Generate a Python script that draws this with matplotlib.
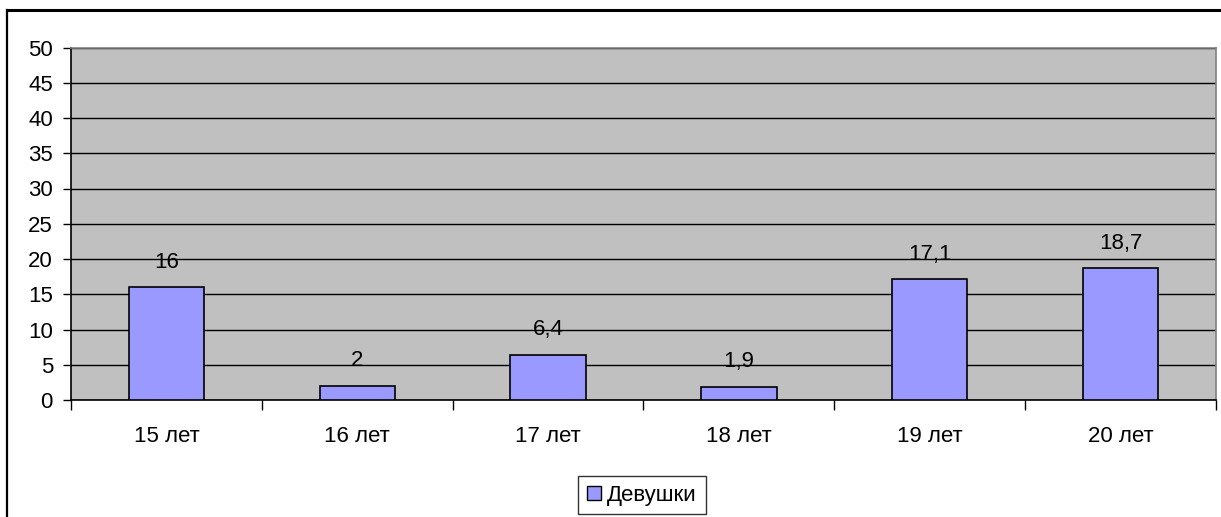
import matplotlib
matplotlib.use("Agg")
import matplotlib.pyplot as plt
from matplotlib.patches import Rectangle
from matplotlib.lines import Line2D

categories = ["15 лет", "16 лет", "17 лет", "18 лет", "19 лет", "20 лет"]
values = [16, 2, 6.4, 1.9, 17.1, 18.7]
value_labels = ["16", "2", "6,4", "1,9", "17,1", "18,7"]
series_name = "Девушки"
yticks = [0, 5, 10, 15, 20, 25, 30, 35, 40, 45, 50]

plt.rcParams['font.family'] = ['Liberation Sans', 'DejaVu Sans']
FS = 16
W, H = 1221, 517
fig = plt.figure(figsize=(W / 100, H / 100), dpi=100)

# outer frame (left and top visible)
fig.add_artist(Line2D([7.5 / W, 7.5 / W], [0, 1 - 9.5 / H], transform=fig.transFigure, color='black', lw=1.6))
fig.add_artist(Line2D([7.5 / W, 1.0], [1 - 9.5 / H, 1 - 9.5 / H], transform=fig.transFigure, color='black', lw=2.2))

x0, x1 = 71, 1216
ytop, ybot = 47.5, 400
ax = fig.add_axes([x0 / W, 1 - ybot / H, (x1 - x0) / W, (ybot - ytop) / H])
ax.set_facecolor('#C0C0C0')
for s in ax.spines.values():
    s.set_color('#808080')
    s.set_linewidth(1.2)
ax.spines['left'].set_color('black')
ax.spines['bottom'].set_color('black')

ax.set_ylim(0, 50)
ax.set_xlim(-0.5, len(categories) - 0.5)
ax.set_yticks(yticks)
ax.set_yticklabels([str(t) for t in yticks], fontsize=FS)
ax.yaxis.grid(True, color='black', lw=1.0)
ax.set_axisbelow(True)
ax.tick_params(axis='y', direction='out', length=6, width=1, pad=7)

xpos = list(range(len(categories)))
ax.bar(xpos, values, width=0.395, color='#9999FF', edgecolor='black', linewidth=1.2, zorder=3)

ax.set_xticks([i - 0.5 for i in range(len(categories) + 1)])
ax.set_xticklabels([])
ax.tick_params(axis='x', direction='out', length=7, width=1)
ax.set_xticks(xpos, minor=True)
ax.set_xticklabels(categories, minor=True, fontsize=FS)
ax.tick_params(axis='x', which='minor', length=0, pad=19)

for xi, v, lab in zip(xpos, values, value_labels):
    ax.annotate(lab, (xi, v), xytext=(0, 18), textcoords='offset points',
                ha='center', va='center', fontsize=FS, zorder=4)

handle = Rectangle((0, 0), 1, 1, facecolor='#9999FF', edgecolor='black', linewidth=1)
leg = fig.legend([handle], [series_name], loc='center', bbox_to_anchor=(642 / W, 1 - 495 / H),
                 fontsize=FS, frameon=True, fancybox=False, handlelength=0.6, handleheight=0.6,
                 handletextpad=0.3, borderpad=0.4, borderaxespad=0)
leg.get_frame().set_edgecolor('black')
leg.get_frame().set_linewidth(1.0)

fig.savefig('out.png', dpi=100)
